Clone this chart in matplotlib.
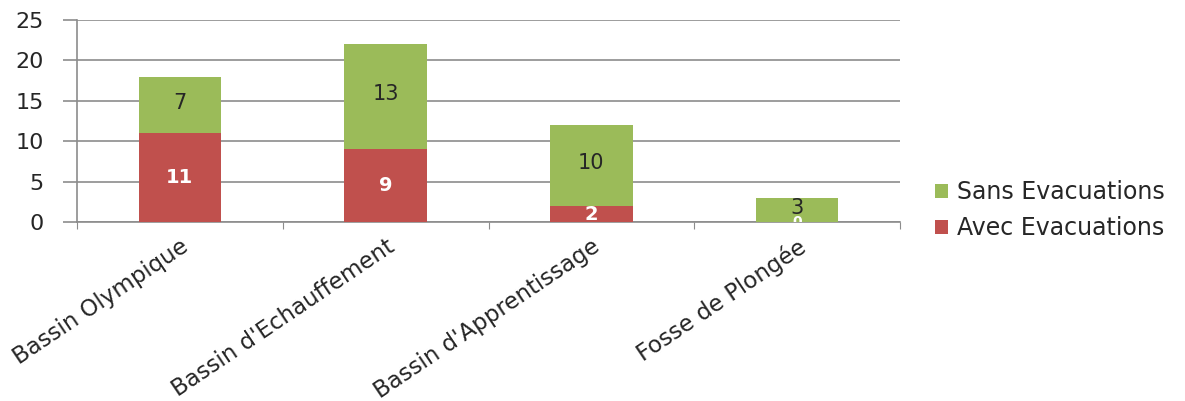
import numpy as np
import matplotlib.pyplot as plt

categories = ['Bassin Olympique', "Bassin d'Echauffement", "Bassin d'Apprentissage", 'Fosse de Plongée']
avec = [11, 9, 2, 0]   # Avec Evacuations (bottom, red)
sans = [7, 13, 10, 3]  # Sans Evacuations (top, green)

red = '#C0504D'
green = '#9BBB59'
txt = '#262626'

plt.rcParams['font.family'] = ['DejaVu Sans']

fig = plt.figure(figsize=(11.85, 4.01), dpi=100)
ax = fig.add_axes([0.065, 0.446, 0.6945, 0.504])

x = np.arange(len(categories))
w = 0.4
b1 = ax.bar(x, avec, w, color=red, label='Avec Evacuations', zorder=3)
b2 = ax.bar(x, sans, w, bottom=avec, color=green, label='Sans Evacuations', zorder=3)

# value labels inside bars
for i in range(len(categories)):
    ax.text(x[i], avec[i] / 2, str(avec[i]), ha='center', va='center',
            color='white', fontsize=14 if avec[i] else 10, fontweight='bold',
            zorder=4, clip_on=True)
    ax.text(x[i], avec[i] + sans[i] / 2 + 0.3, str(sans[i]), ha='center', va='center',
            color=txt, fontsize=15, zorder=4)

ax.set_xlim(-0.5, len(categories) - 0.5)
ax.set_ylim(0, 25)
ax.set_yticks(range(0, 26, 5))
ax.yaxis.grid(True, color='#8c8c8c', linewidth=1.2, zorder=0)
ax.set_axisbelow(True)

ax.set_xticks(np.arange(-0.5, len(categories), 1.0))
ax.set_xticklabels([])
ax.set_xticks(x, minor=True)
ax.set_xticklabels(categories, minor=True, rotation=34, ha='right', va='top',
                   rotation_mode='anchor', fontsize=16.5, color=txt)
ax.tick_params(axis='x', which='minor', length=0, pad=9)
ax.tick_params(axis='x', which='major', length=5, color='#8c8c8c')
ax.tick_params(axis='y', length=10, color='#8c8c8c', width=1.2, labelsize=16,
               labelcolor=txt, pad=14)

for s in ['top', 'right']:
    ax.spines[s].set_visible(False)
for s in ['left', 'bottom']:
    ax.spines[s].set_color('#8c8c8c')
    ax.spines[s].set_linewidth(1.2)

handles = [b2, b1]
labels = ['Sans Evacuations', 'Avec Evacuations']
fig.legend(handles, labels, loc='center left', bbox_to_anchor=(0.771, 0.476),
           frameon=False, fontsize=17, handlelength=0.55, handleheight=0.55,
           labelspacing=0.5, handletextpad=0.4, labelcolor=txt)

plt.savefig('out.png', dpi=100)
plt.close()
